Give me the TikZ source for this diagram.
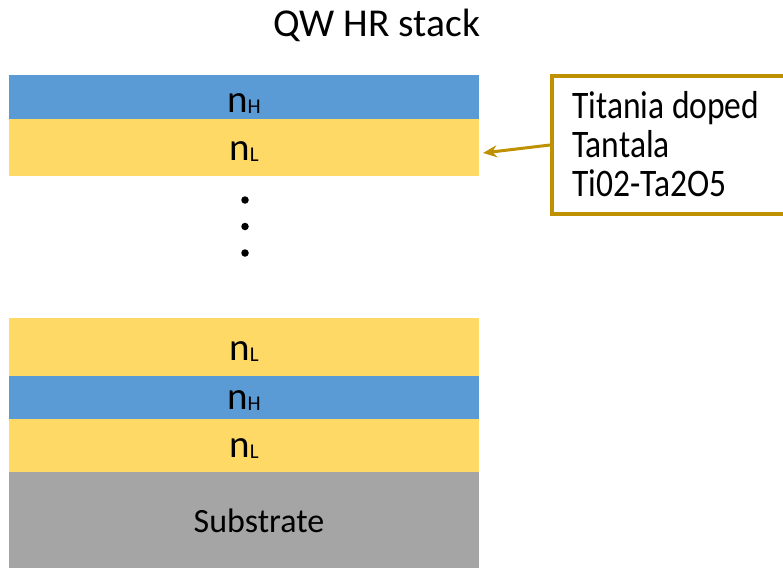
\documentclass[tikz,border=0pt]{standalone}
\usepackage{fontspec}
\setmainfont{Carlito}
\newfontfamily\notefont[FakeStretch=0.86]{Carlito}
\usetikzlibrary{arrows.meta}
\definecolor{layerH}{HTML}{5B9BD5}
\definecolor{layerL}{HTML}{FFD966}
\definecolor{subgray}{HTML}{A5A5A5}
\definecolor{gold}{HTML}{BF9000}
\newcommand{\nidx}[1]{n{\fontsize{21}{21}\selectfont\raisebox{-1.5pt}{#1}}}
\begin{document}
\begin{tikzpicture}[x=1pt,y=-1pt,
  layer/.style={draw=none,inner sep=0pt,minimum width=470pt},
  lbl/.style={anchor=base,inner sep=0pt,font=\fontsize{39}{44}\selectfont},
  dot/.style={circle,fill=black,inner sep=0pt,minimum size=7.5pt}]
\useasboundingbox (0,0) rectangle (783,567);
% title
\node[anchor=base west,inner sep=0pt,font=\fontsize{39.5}{44}\selectfont] (title) at (273,37) {QW HR stack};
% upper layers
\node[layer,fill=layerH,minimum height=44pt] (h1) at (244,97) {};
\node[layer,fill=layerL,minimum height=57pt] (l1) at (244,147.5) {};
\node[lbl] (th1) at (244,112) {\nidx{H}};
\node[lbl] (tl1) at (244,160) {\nidx{L}};
% ellipsis
\node[dot] (d1) at (245,200) {};
\node[dot] (d2) at (245,226.5) {};
\node[dot] (d3) at (245,253) {};
% lower layers
\node[layer,fill=layerL,minimum height=58pt] (l2) at (244,347) {};
\node[layer,fill=layerH,minimum height=43pt] (h2) at (244,397.5) {};
\node[layer,fill=layerL,minimum height=53pt] (l3) at (244,445.5) {};
\node[layer,fill=subgray,minimum height=96pt] (sub) at (244,520) {};
\node[lbl] (tl2) at (244,360) {\nidx{L}};
\node[lbl] (th2) at (244,409) {\nidx{H}};
\node[lbl] (tl3) at (244,457) {\nidx{L}};
\node[anchor=base,inner sep=0pt,font=\fontsize{34}{40}\selectfont] (tsub) at (259,532) {Substrate};
% material note
\node[draw=gold,line width=4pt,fill=white,minimum width=240pt,minimum height=138pt,inner sep=0pt] (note) at (672,145) {};
\node[anchor=north west,inner sep=0pt,align=left,font=\notefont\fontsize{39}{39}\selectfont] (notetext) at (572,91) {Titania doped\\Tantala\\Ti02-Ta2O5};
\coordinate (tip) at (483,153);
\draw[gold,line width=3pt,-{Stealth[length=14pt,width=12pt]}] (note.west) -- (tip);
\end{tikzpicture}
\end{document}
